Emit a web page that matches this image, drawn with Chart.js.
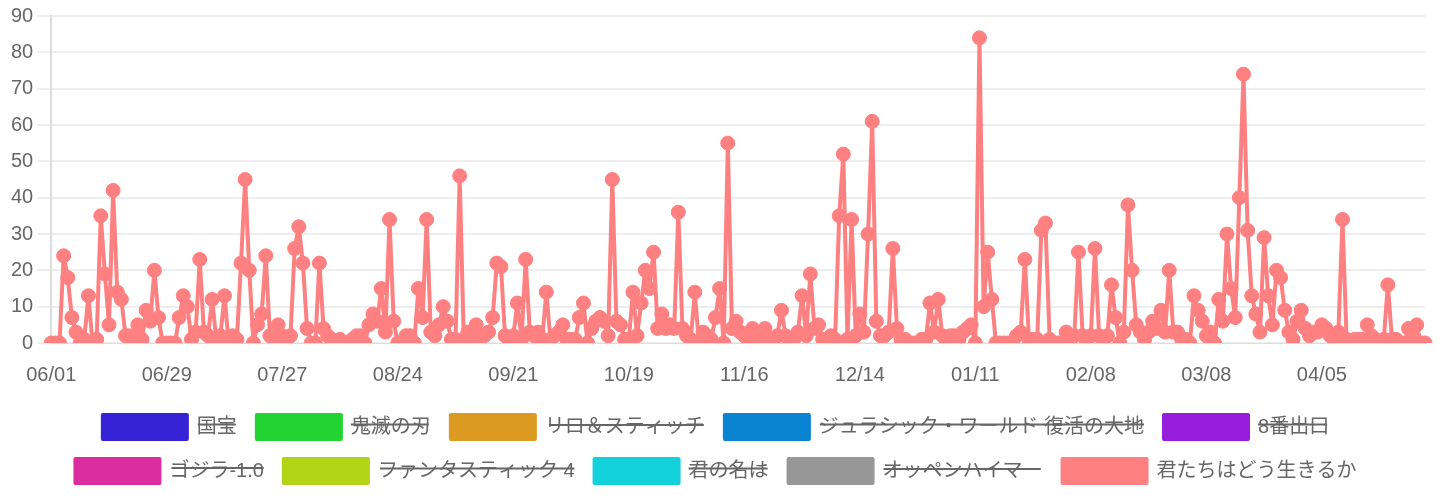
<!DOCTYPE html>
<html>
<head>
<meta charset="utf-8">
<script src="https://cdn.jsdelivr.net/npm/chart.js@4"></script>
<style>
html,body{margin:0;padding:0;background:#fff;}
#wrap{width:1437px;height:500px;}
</style>
</head>
<body>
<div id="wrap"><canvas id="c"></canvas></div>
<script>
const startDate = '2024-06-01';
const dayCount = 334;
const tickEvery = 28;

const seriesNames = ['国宝','鬼滅の刃','リロ＆スティッチ','ジュラシック・ワールド 復活の大地','8番出口','ゴジラ-1.0','ファンタスティック 4','君の名は','オッペンハイマー','君たちはどう生きるか'];
const seriesColors = ['#3623D5','#22D332','#DC9A20','#0A84D0','#961EDA','#DB2DA0','#B3D414','#12D1DB','#979797','#FF8080'];
const seriesHidden = [true,true,true,true,true,true,true,true,true,false];

const kimitachiValues = [
0,0,0,24,18,7,3,0,1,13, 0,1,35,19,5,42,14,12,2,2,
0,5,1,9,6,20,7,0,0,0, 0,7,13,10,1,3,23,3,2,12,
1,2,13,0,2,1,22,45,20,0, 5,8,24,2,1,5,2,1,2,26,
32,22,4,0,0,22,4,2,1,0, 1,0,0,1,2,2,0,5,8,6,
15,3,34,6,0,0,2,2,0,15, 7,34,3,2,5,10,6,1,1,46,
1,3,0,5,2,2,3,7,22,21, 2,1,2,11,1,23,3,2,3,1,
14,1,2,3,5,1,1,1,7,11, 0,4,6,7,6,2,45,6,5,1,
1,14,2,11,20,15,25,4,8,4, 5,4,36,4,2,1,14,0,3,2,
1,7,15,0,55,4,6,3,2,1, 4,2,1,4,1,0,2,9,2,0,
1,3,13,2,19,4,5,1,1,2, 1,35,52,1,34,2,8,3,30,61,
6,2,2,3,26,4,1,1,0,0, 0,1,1,11,3,12,2,0,2,2,
1,3,4,5,0,84,10,25,12,0, 0,0,0,0,2,3,23,1,1,1,
31,33,1,0,0,0,3,1,2,25, 2,0,2,26,2,0,2,16,7,0,
3,38,20,5,3,1,3,6,4,9, 3,20,3,3,1,1,0,13,9,6,
2,3,0,12,6,30,15,7,40,74, 31,13,8,3,29,13,5,20,18,9,
3,1,6,9,4,2,3,3,5,4, 2,1,3,34,1,0,1,1,1,5,
2,1,0,1,16,1,1,0,0,4, 1,5,0,0
];

const otherValues = [[],[],[],[],[],[],[],[],[]];

function buildLabels(start, n){
  const out = [];
  const d = new Date(start + 'T00:00:00');
  for (let i = 0; i < n; i++){
    const mm = String(d.getMonth()+1).padStart(2,'0');
    const dd = String(d.getDate()).padStart(2,'0');
    out.push(mm + '/' + dd);
    d.setDate(d.getDate()+1);
  }
  return out;
}
const categories = buildLabels(startDate, dayCount);

const allValues = otherValues.concat([kimitachiValues]);

const FONT = "'Helvetica Neue', Helvetica, Arial, 'Noto Sans CJK JP', sans-serif";

const datasets = seriesNames.map((name, k) => ({
  label: name,
  data: allValues[k],
  borderColor: seriesColors[k],
  backgroundColor: seriesColors[k],
  borderWidth: 4,
  borderJoinStyle: 'round',
  borderCapStyle: 'round',
  pointRadius: 7,
  pointBorderWidth: 1,
  pointHoverRadius: 7,
  tension: 0,
  fill: false,
  hidden: seriesHidden[k]
}));

new Chart(document.getElementById('c'), {
  type: 'line',
  data: { labels: categories, datasets: datasets },
  options: {
    responsive: true,
    maintainAspectRatio: false,
    animation: false,
    layout: { padding: { left: 7, right: 12, top: 13, bottom: 7 } },
    plugins: {
      legend: {
        position: 'bottom',
        labels: {
          boxWidth: 84,
          boxHeight: 24,
          padding: 20,
          color: '#666',
          font: { size: 20, family: FONT }
        }
      },
      tooltip: { enabled: false }
    },
    scales: {
      x: {
        grid: { display: false, drawTicks: true, tickLength: 12 },
        border: { display: true, color: '#ddd' },
        ticks: {
          autoSkip: false,
          maxRotation: 0,
          minRotation: 0,
          color: '#666',
          font: { size: 20, family: FONT },
          padding: 8,
          callback: function(value, index){ return index % tickEvery === 0 ? this.getLabelForValue(value) : null; }
        }
      },
      y: {
        min: 0,
        max: 90,
        grid: { color: '#eeeeee', lineWidth: 2, tickLength: 14 },
        border: { display: true, color: '#ddd', width: 2 },
        ticks: {
          stepSize: 10,
          color: '#666',
          font: { size: 20, family: FONT },
          padding: 4
        }
      }
    }
  }
});
</script>
</body>
</html>
